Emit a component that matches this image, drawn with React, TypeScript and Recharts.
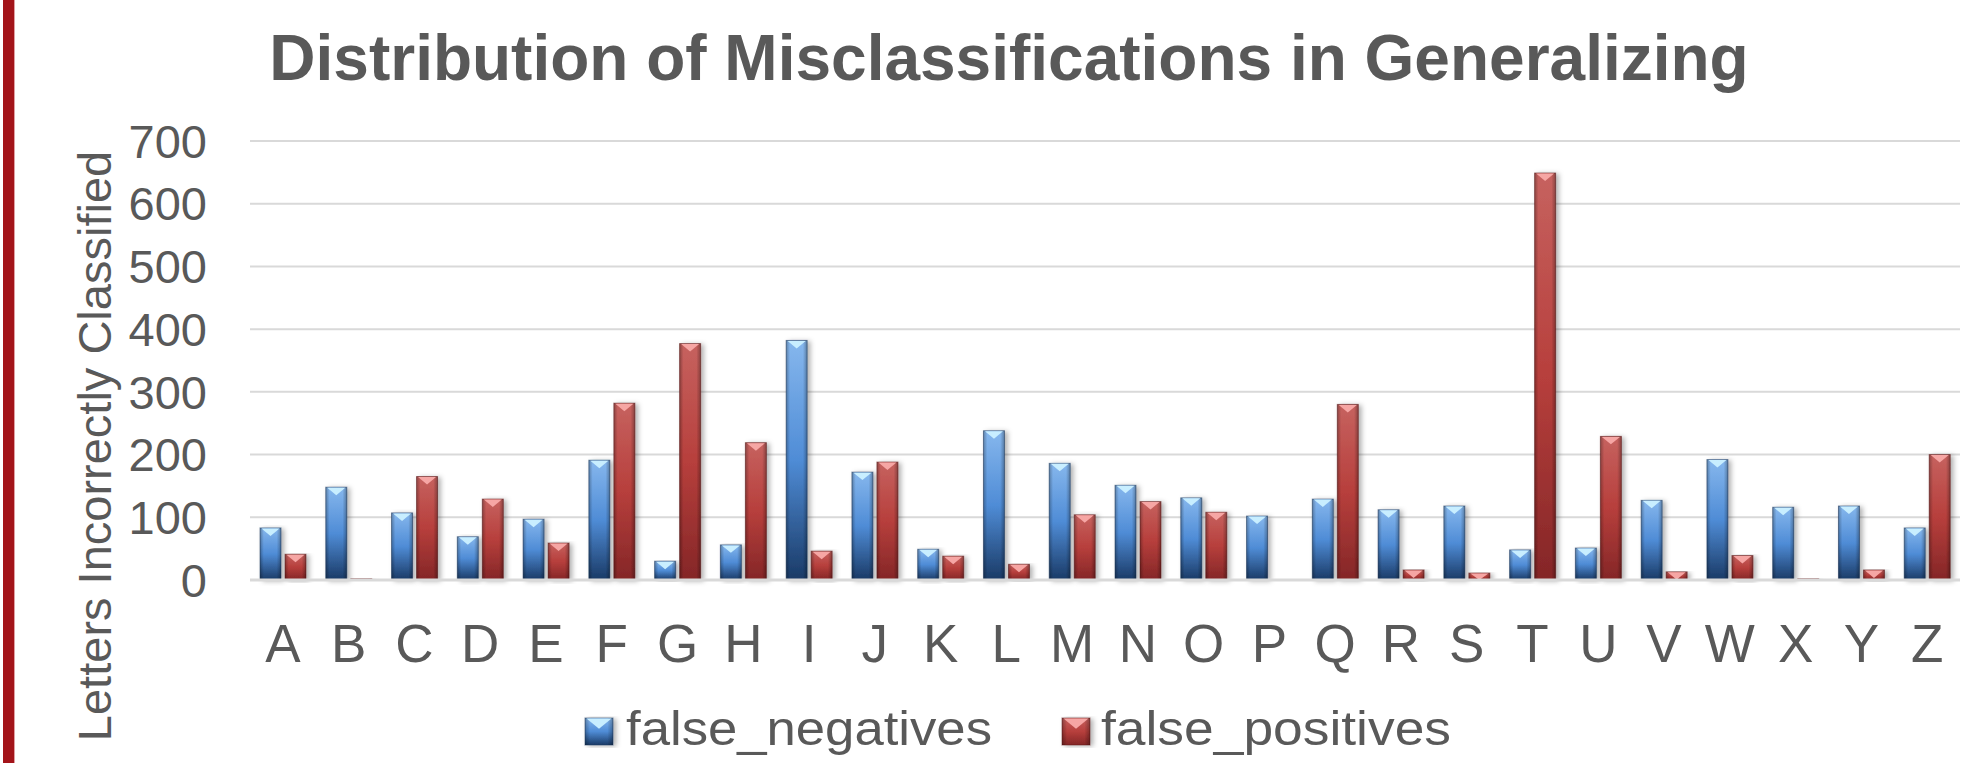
import { Bar, BarChart, CartesianGrid, Legend, XAxis, YAxis } from 'recharts'

const letters = ['A', 'B', 'C', 'D', 'E', 'F', 'G', 'H', 'I', 'J', 'K', 'L', 'M', 'N', 'O', 'P', 'Q', 'R', 'S', 'T', 'U', 'V', 'W', 'X', 'Y', 'Z']
const falseNegatives = [83, 148, 107, 69, 97, 191, 30, 56, 382, 172, 49, 238, 186, 151, 131, 102, 129, 112, 118, 48, 51, 127, 192, 116, 118, 83]
const falsePositives = [41, 2, 165, 129, 59, 282, 377, 219, 46, 188, 38, 25, 104, 125, 108, 0, 280, 16, 11, 649, 229, 13, 39, 2, 16, 200]
const yTicks = [0, 100, 200, 300, 400, 500, 600, 700]

const chartData = letters.map((letter, i) => ({
  letter,
  false_negatives: falseNegatives[i],
  false_positives: falsePositives[i],
}))

const FONT = '"Liberation Sans", Arial, sans-serif'
const TEXT = '#595959'
const W = 1978
const H = 763

type Tone = 'blue' | 'red'

const palettes: Record<Tone, { top: string; mid: string; bottom: string; bevel: string; edge: string }> = {
  blue: { top: '#86b7ed', mid: '#4f8cd6', bottom: '#1a3a66', bevel: '#c8eeff', edge: '#1d3a60' },
  red: { top: '#c6625f', mid: '#b73f3c', bottom: '#842627', bevel: '#f6a6a4', edge: '#5e1a1a' },
}

function BevelBar(props: any) {
  const { x, y, width, height, tone } = props
  if (!height || height <= 0) return null
  const p = palettes[tone as Tone]
  const bev = Math.min(width * 0.38, height)
  return (
    <g filter="url(#barShadow)">
      <rect x={x} y={y} width={width} height={height} fill={`url(#body-${tone})`} stroke={p.edge} strokeOpacity={0.55} strokeWidth={1} />
      <rect x={x} y={y} width={width} height={height} fill="url(#sideShade)" />
      <polygon points={`${x + 1.5},${y + 0.5} ${x + width - 1.5},${y + 0.5} ${x + width / 2},${y + bev}`} fill={p.bevel} />
    </g>
  )
}

const legendItems: { key: string; tone: Tone; box: number; text: number; len: number }[] = [
  { key: 'false_negatives', tone: 'blue', box: 585, text: 626, len: 366 },
  { key: 'false_positives', tone: 'red', box: 1062, text: 1101, len: 350 },
]

function LegendContent() {
  return (
    <svg width={W} height={60} style={{ display: 'block' }}>
      {legendItems.map((item) => (
        <g key={item.key}>
          <BevelBar x={item.box} y={15} width={28} height={27} tone={item.tone} />
          <text
            x={item.text}
            y={42}
            fontFamily={FONT}
            fontSize={48}
            fill={TEXT}
            textLength={item.len}
            lengthAdjust="spacingAndGlyphs"
          >
            {item.key}
          </text>
        </g>
      ))}
    </svg>
  )
}

function YLabel() {
  return (
    <text x={111} y={446} transform="rotate(-90, 111, 446)" textAnchor="middle" fontFamily={FONT} fontSize={47} fill={TEXT}>
      Letters Incorrectly Classified
    </text>
  )
}

export default function App() {
  return (
    <div style={{ position: 'absolute', left: 0, top: 0, width: W, height: H, background: '#fff', fontFamily: FONT }}>
      <div style={{ position: 'absolute', left: 3, top: 0, width: 11, height: H, background: '#a3141a', borderRight: '1px solid #e0a0a3' }} />
      <svg width={W} height={110} style={{ position: 'absolute', left: 0, top: 0, pointerEvents: 'none' }}>
        <defs>
          <linearGradient id="body-blue" x1="0" y1="0" x2="0" y2="1">
            <stop offset="0%" stopColor={palettes.blue.top} />
            <stop offset="50%" stopColor={palettes.blue.mid} />
            <stop offset="100%" stopColor={palettes.blue.bottom} />
          </linearGradient>
          <linearGradient id="body-red" x1="0" y1="0" x2="0" y2="1">
            <stop offset="0%" stopColor={palettes.red.top} />
            <stop offset="50%" stopColor={palettes.red.mid} />
            <stop offset="100%" stopColor={palettes.red.bottom} />
          </linearGradient>
          <linearGradient id="sideShade" x1="0" y1="0" x2="1" y2="0">
            <stop offset="0%" stopColor="#000" stopOpacity={0.28} />
            <stop offset="18%" stopColor="#000" stopOpacity={0} />
            <stop offset="80%" stopColor="#000" stopOpacity={0} />
            <stop offset="100%" stopColor="#000" stopOpacity={0.3} />
          </linearGradient>
          <filter id="barShadow" x="-30%" y="-5%" width="170%" height="115%">
            <feDropShadow dx={3} dy={1} stdDeviation={2.5} floodColor="#000" floodOpacity={0.3} />
          </filter>
        </defs>
        <text x={1009} y={80} textAnchor="middle" fontFamily={FONT} fontWeight="bold" fontSize={64} fill={TEXT}>
          Distribution of Misclassifications in Generalizing
        </text>
      </svg>
      <div style={{ position: 'absolute', left: 0, top: 0 }}>
        <BarChart width={W} height={H} data={chartData} margin={{ top: 141, right: 18, left: 0, bottom: 0 }} barSize={21} barGap={4}>
          <CartesianGrid vertical={false} stroke="#d9d9d9" strokeWidth={2} />
          <XAxis
            dataKey="letter"
            height={123}
            interval={0}
            tickLine={false}
            axisLine={{ stroke: '#d9d9d9', strokeWidth: 3 }}
            tickMargin={38}
            tick={{ fontSize: 53, fill: TEXT, fontFamily: FONT }}
          />
          <YAxis
            width={250}
            domain={[0, 700]}
            ticks={yTicks}
            interval={0}
            tickLine={false}
            axisLine={false}
            tickMargin={37}
            tick={{ fontSize: 47, fill: TEXT, fontFamily: FONT }}
            label={{ content: () => <YLabel /> }}
          />
          <Legend verticalAlign="bottom" content={() => <LegendContent />} wrapperStyle={{ left: 0, bottom: 0, width: W, height: 60 }} />
          <Bar dataKey="false_negatives" fill="#4f8cd6" isAnimationActive={false} shape={(p: any) => <BevelBar {...p} tone="blue" />} />
          <Bar dataKey="false_positives" fill="#b73f3c" isAnimationActive={false} shape={(p: any) => <BevelBar {...p} tone="red" />} />
        </BarChart>
      </div>
    </div>
  )
}
